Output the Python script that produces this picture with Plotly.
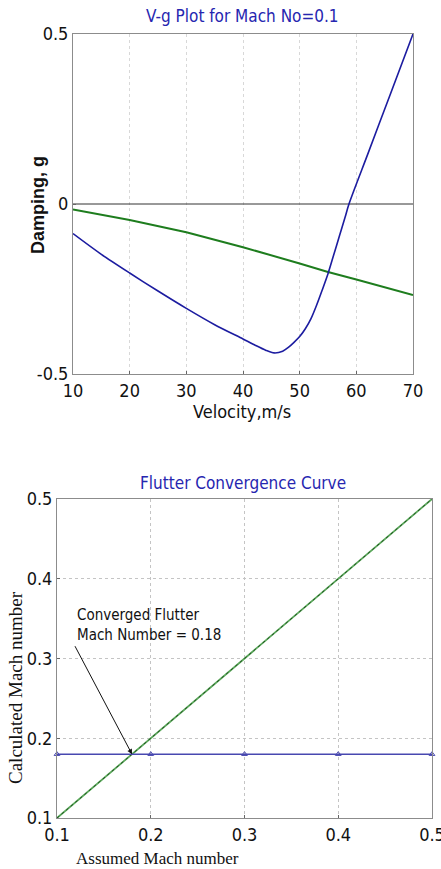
import plotly.graph_objects as go

# ---- data: V-g plot ----
velocity_blue = [10, 15, 20, 25, 30, 35, 40, 42, 44, 45.5, 47, 48, 49, 50, 51, 52, 53, 54, 55, 56, 57, 58, 58.7, 62, 66, 70]
damping_blue = [-0.087, -0.148, -0.203, -0.256, -0.307, -0.355, -0.397, -0.414, -0.43, -0.438, -0.433, -0.422, -0.407, -0.39, -0.367, -0.337, -0.297, -0.252, -0.205, -0.15, -0.095, -0.04, 0.0, 0.146, 0.323, 0.5]
velocity_green = [10, 20, 30, 40, 50, 55, 60, 70]
damping_green = [-0.016, -0.047, -0.083, -0.127, -0.175, -0.2, -0.222, -0.268]
zero_x = [10, 70]
zero_y = [0, 0]

# ---- data: flutter convergence ----
assumed_mach = [0.1, 0.2, 0.3, 0.4, 0.5]
calculated_mach = [0.18, 0.18, 0.18, 0.18, 0.18]
ideal_x = [0.1, 0.5]
ideal_y = [0.1, 0.5]
converged = 0.18

W, H = 441, 869
NARROW = "Liberation Sans Narrow, DejaVu Sans Condensed, Arial Narrow, sans-serif"
SERIF = "Liberation Serif, Times New Roman, serif"

def px_y(p):
    return 1 - p / H

fig = go.Figure()

fig.add_trace(go.Scatter(x=zero_x, y=zero_y, mode="lines", line=dict(color="#333333", width=1),
                         xaxis="x", yaxis="y", showlegend=False, hoverinfo="skip"))
fig.add_trace(go.Scatter(x=velocity_green, y=damping_green, mode="lines",
                         line=dict(color="#1e7d1e", width=2), xaxis="x", yaxis="y", showlegend=False))
fig.add_trace(go.Scatter(x=velocity_blue, y=damping_blue, mode="lines",
                         line=dict(color="#1c1ca0", width=1.6, shape="spline", smoothing=0.8),
                         xaxis="x", yaxis="y", showlegend=False))

fig.add_trace(go.Scatter(x=ideal_x, y=ideal_y, mode="lines", line=dict(color="#5aa85a", width=1.8),
                         xaxis="x2", yaxis="y2", showlegend=False))
fig.add_trace(go.Scatter(x=ideal_x, y=ideal_y, mode="lines", line=dict(color="#1f4f1f", width=1, dash="3px,3px"),
                         xaxis="x2", yaxis="y2", showlegend=False))
fig.add_trace(go.Scatter(x=assumed_mach, y=calculated_mach, mode="lines+markers",
                         line=dict(color="#4848b0", width=1.6),
                         marker=dict(symbol="triangle-up-open", size=5, color="#4848b0"),
                         xaxis="x2", yaxis="y2", showlegend=False, cliponaxis=False))

axis_common = dict(showline=True, linecolor="#8c8c8c", linewidth=1, mirror=True,
                   ticks="inside", ticklen=3, tickcolor="#666666", zeroline=False, automargin=False,
                   ticklabeloverflow="allow",
                   tickfont=dict(family=NARROW, size=18, color="#111111"))

fig.update_layout(
    width=W, height=H, margin=dict(l=0, r=0, t=0, b=0, autoexpand=False),
    paper_bgcolor="white", plot_bgcolor="white",
    xaxis=dict(domain=[73 / W, 413 / W], range=[10, 70], tickvals=[10, 20, 30, 40, 50, 60, 70],
               showgrid=True, gridcolor="#d8d8d8", griddash="dot", gridwidth=1, anchor="y", **axis_common),
    yaxis=dict(domain=[px_y(374), px_y(34)], range=[-0.5, 0.5], tickvals=[-0.5, 0, 0.5],
               ticktext=["-0.5", "0", "0.5"], showgrid=False, anchor="x", **axis_common),
    xaxis2=dict(domain=[57 / W, 432 / W], range=[0.1, 0.5], tickvals=[0.1, 0.2, 0.3, 0.4, 0.5],
                showgrid=True, gridcolor="#c4c4c4", griddash="dot", gridwidth=1, anchor="y2", **axis_common),
    yaxis2=dict(domain=[px_y(818), px_y(499)], range=[0.1, 0.5], tickvals=[0.1, 0.2, 0.3, 0.4, 0.5],
                showgrid=True, gridcolor="#c4c4c4", griddash="dot", gridwidth=1, anchor="x2", **axis_common),
)

def label(text, xp, yp, font, angle=0):
    return dict(text=text, x=xp / W, y=px_y(yp), xref="paper", yref="paper", showarrow=False,
                xanchor="center", yanchor="middle", textangle=angle, font=font)

annotations = [
    label("V-g Plot for Mach No=0.1", 243, 16, dict(family=NARROW, size=17, color="#2626b0")),
    label("<b>Damping, g</b>", 38, 205, dict(family="Liberation Sans, Arial, sans-serif", size=18, color="#111111"), -90),
    label("Velocity,m/s", 242, 411, dict(family=NARROW, size=18, color="#111111")),
    label("Flutter Convergence Curve", 243, 483, dict(family=NARROW, size=17, color="#2626b0")),
    label("Calculated Mach number", 15, 688, dict(family=SERIF, size=19, color="#111111"), -90),
    label("Assumed Mach number", 157, 858, dict(family=SERIF, size=17, color="#111111")),
    dict(text="Converged Flutter<br>Mach Number = 0.18", x=converged, y=converged, xref="x2", yref="y2",
         showarrow=True, arrowhead=2, arrowsize=1, arrowwidth=1, arrowcolor="#111111",
         ax=-57, ay=-108, xanchor="left", yanchor="bottom", align="left",
         font=dict(family=NARROW, size=15, color="#111111")),
]
fig.update_layout(annotations=annotations)

fig.write_html("out.html", config={"displayModeBar": False},
               post_script="document.body.style.margin='0';document.body.style.overflow='hidden';")
